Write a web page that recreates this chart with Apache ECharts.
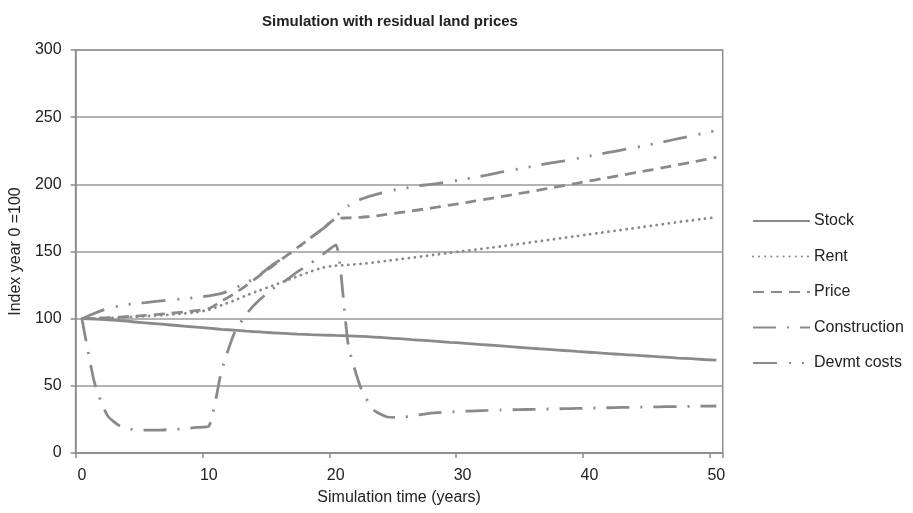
<!DOCTYPE html>
<html>
<head>
<meta charset="utf-8">
<script src="https://cdn.jsdelivr.net/npm/echarts@6/dist/echarts.min.js"></script>
<style>html,body{margin:0;padding:0;background:#fff}#c{width:913px;height:513px}</style>
</head>
<body>
<div id="c"></div>
<script>
var years = [];
for (var i = 0; i <= 50; i++) years.push(String(i));

var stock = [100,99.7,99.2,98.5,97.7,96.9,96.1,95.3,94.5,93.7,92.9,92.1,91.4,90.7,90.1,89.5,89.0,88.5,88.1,87.8,87.5,87.2,86.8,86.3,85.7,85.1,84.4,83.8,83.1,82.4,81.8,81.1,80.4,79.7,79.0,78.3,77.6,77.0,76.3,75.6,75.0,74.3,73.7,73.1,72.5,71.9,71.3,70.7,70.2,69.6,69.1];
var rent = [100,100.2,100.5,100.9,101.3,101.8,102.4,103.0,103.8,104.8,106.5,110,113.5,117.5,121,124.5,128,131.5,135,138,139.5,140,140.8,141.8,143,144.2,145.4,146.6,147.8,149,150.2,151.4,152.6,153.8,155,156.3,157.6,158.9,160.2,161.5,162.8,164.1,165.4,166.7,168,169.3,170.6,171.9,173.1,174.3,175.5];
var price = [100,100.3,100.7,101.2,101.8,102.5,103.2,104,104.9,106,107.5,113,118.5,125,132,139,146,153,160,167,174.5,175,175.5,176.3,177.6,178.9,180.2,181.6,183,184.5,186,187.6,189.2,190.8,192.4,194,195.7,197.4,199.1,200.8,202.5,204.2,205.9,207.6,209.3,211,212.8,214.6,216.4,218.2,220];
var construction = [100,52,28,20,17.5,17,17,17.5,18,19,20,61,89,104,114,122,128,135,141,148,155,80,48,32,27,26.5,27.5,29,30,30.5,31,31.4,31.7,32,32.2,32.4,32.6,32.8,33,33.2,33.4,33.6,33.8,34,34.2,34.3,34.5,34.6,34.8,34.9,35];
var devmt = [100,104,107.5,109.7,111,112,113,114,114.8,115.8,117,118.8,122.5,127,132.5,140,146,152.5,160,167,176,184,189,192,194.5,196.5,198,199.5,200.5,202,203.5,205.3,207,209,210.8,212.5,214.3,216,217.5,219.3,221,222.8,224.6,226.4,228.2,230,232,234,236,238,240];

var seriesNames = ['Stock','Rent','Price','Construction','Devmt costs'];
var yTicks = [0,50,100,150,200,250,300];

var LINE = '#8a8a8d';
var W = 2.8;
var styles = [
  {type:'solid'},
  {type:[0.1,6], cap:'round'},
  {type:[11,7]},
  {type:[23,11,2,11]},
  {type:[24,12,2,11,2,11]}
];
var datas = [stock, rent, price, construction, devmt];

var chart = echarts.init(document.getElementById('c'), null, {renderer:'canvas'});
var series = seriesNames.map(function(n, k){
  return {
    name: n, type: 'line', data: datas[k], symbol: 'none', showSymbol: false, smooth: 0.2,
    lineStyle: Object.assign({color: LINE, width: W}, styles[k]),
    itemStyle: {color: LINE},
    emphasis: {disabled: true},
    animation: false
  };
});

chart.setOption({
  animation: false,
  backgroundColor: '#fff',
  textStyle: {fontFamily: '"Liberation Sans", Arial, sans-serif'},
  title: {
    text: 'Simulation with residual land prices',
    left: 385, top: 9, textAlign: 'center',
    textStyle: {fontSize: 15, fontWeight: 'bold', color: '#222', fontFamily: '"Liberation Sans", Arial, sans-serif'}
  },
  grid: {left: 71.7, right: 190.3, top: 50, bottom: 60, show: true, borderColor: '#8c8c8c', borderWidth: 1.5, containLabel: false},
  legend: {
    orient: 'vertical', left: 747, top: 208, itemWidth: 57, itemHeight: 14, itemGap: 19.5,
    itemStyle: {opacity: 0, borderWidth: 0},
    textStyle: {fontSize: 16, color: '#222', padding: [0,0,0,-1]},
    data: seriesNames
  },
  xAxis: {
    type: 'category', data: years, boundaryGap: true,
    name: 'Simulation time (years)', nameLocation: 'middle', nameGap: 37,
    nameTextStyle: {fontSize: 16, color: '#222'},
    axisLine: {lineStyle: {color: '#8c8c8c', width: 1.5}},
    axisTick: {show: true, interval: function(i){ return i % 10 === 0; }, length: 5, lineStyle: {color: '#8c8c8c', width: 1.5}},
    axisLabel: {interval: function(i){ return i % 10 === 0; }, fontSize: 16, color: '#222', margin: 15},
    splitLine: {show: false}
  },
  yAxis: {
    type: 'value', min: 0, max: 300, interval: 50,
    name: 'Index year 0 =100', nameLocation: 'middle', nameGap: 50,
    nameTextStyle: {fontSize: 16, color: '#222'},
    axisLine: {show: true, lineStyle: {color: '#8c8c8c', width: 1.5}},
    axisTick: {show: true, length: 5, lineStyle: {color: '#8c8c8c', width: 1.5}},
    axisLabel: {fontSize: 16, color: '#222', margin: 14, formatter: function(v){ return yTicks.indexOf(v) >= 0 ? String(v) : ''; }},
    splitLine: {show: true, lineStyle: {color: '#9a9a9a', width: 1.5}}
  },
  series: series
});
</script>
</body>
</html>
